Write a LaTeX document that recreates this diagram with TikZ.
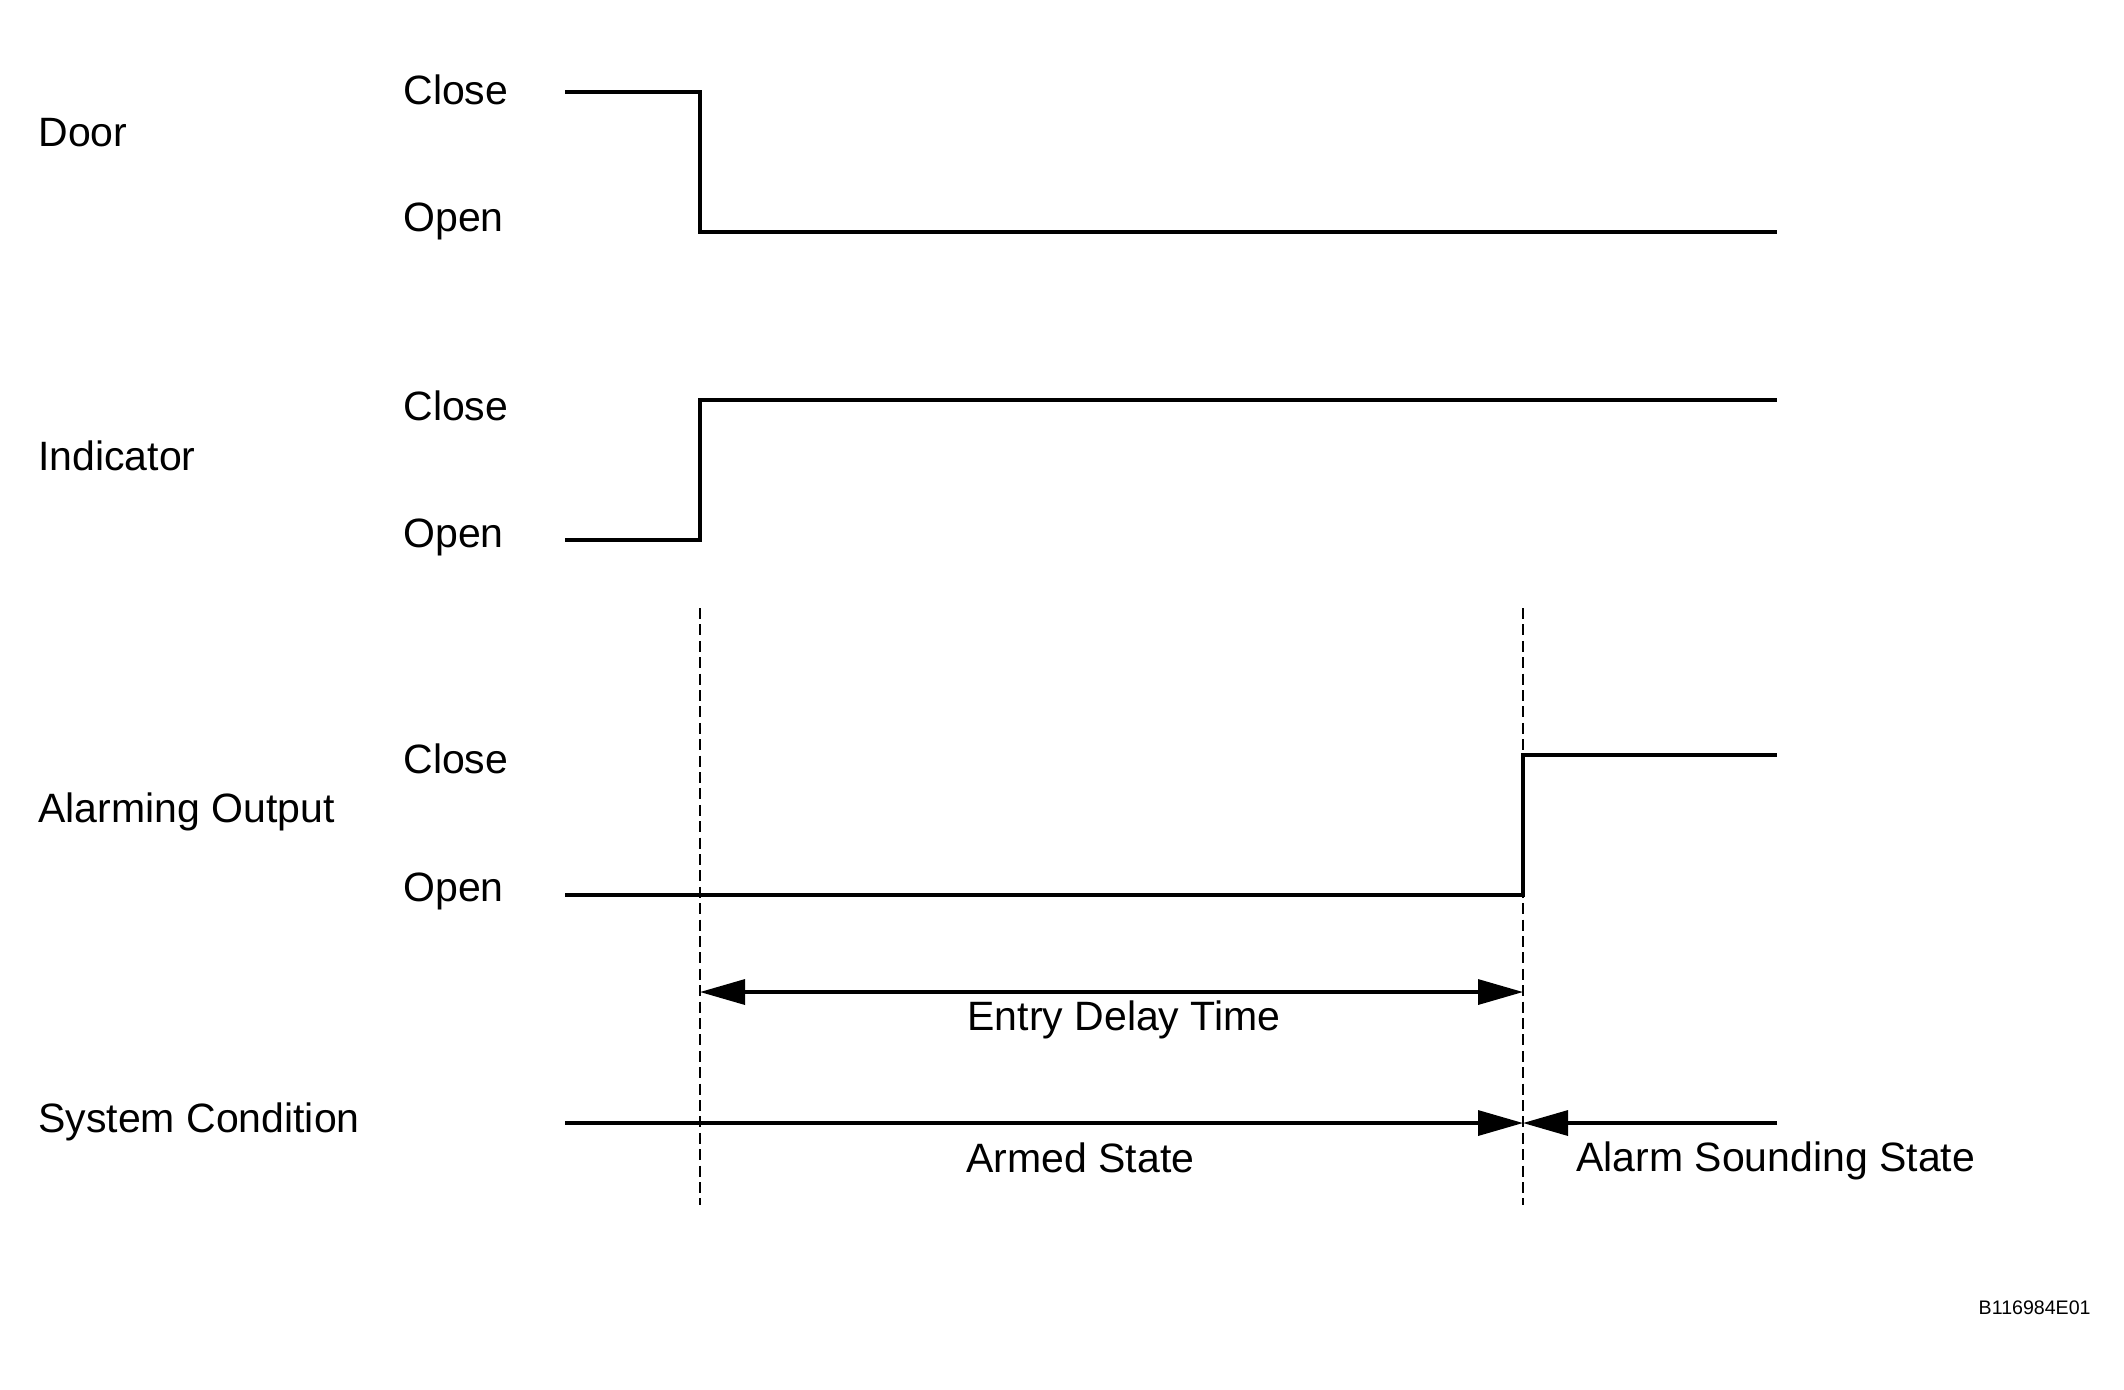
\documentclass[tikz,border=0pt]{standalone}
\usepackage{fontspec}
\setmainfont{Liberation Sans}
\usetikzlibrary{arrows.meta,positioning}

\begin{document}
\begin{tikzpicture}[x=0.5pt, y=-0.5pt]
        \tikzset{
            txt/.style = {anchor=base west, inner sep=0pt, font=\fontsize{20.5}{24}\selectfont},
            wave/.style = {line width=1.8pt, line join=miter},
            guide/.style = {line width=0.85pt, dash pattern=on 5.5pt off 2.7pt},
            arrow/.style = {line width=1.7pt, -{Triangle[length=22.5pt, width=12.5pt]}},
            dimline/.style = {line width=1.7pt, {Triangle[length=22.5pt, width=12.5pt]}-{Triangle[length=22.5pt, width=12.5pt]}}
        }
        \useasboundingbox (0,0) rectangle (2124,1389);

        % signal names
        \node (door) [txt] at (38,146) {Door};
        \node (indicator) [txt] at (38,470) {Indicator};
        \node (alarmOut) [txt] at (38,822) {Alarming Output};
        \node (sysCond) [txt] at (38,1132) {System Condition};

        % levels
        \node (doorClose) [txt] at (403,104) {Close};
        \node (doorOpen) [txt] at (403,231) {Open};
        \node (indClose) [txt] at (403,420) {Close};
        \node (indOpen) [txt] at (403,547) {Open};
        \node (alarmClose) [txt] at (403,773) {Close};
        \node (alarmOpen) [txt] at (403,901) {Open};

        % time marks
        \coordinate (tOpen) at (700,608);
        \coordinate (tOpenEnd) at (700,1205);
        \coordinate (tAlarm) at (1523,608);
        \coordinate (tAlarmEnd) at (1523,1205);
        \draw [guide] (tOpen) -- (tOpenEnd);
        \draw [guide] (tAlarm) -- (tAlarmEnd);

        % waveforms
        \coordinate (doorA) at (565,92);
        \coordinate (doorB) at (1777,232);
        \draw [wave] (doorA) -| (tOpen |- doorB) -- (doorB);
        \coordinate (indA) at (565,540);
        \coordinate (indB) at (1777,400);
        \draw [wave] (indA) -| (tOpen |- indB) -- (indB);
        \coordinate (alarmA) at (565,895);
        \coordinate (alarmB) at (1777,755);
        \draw [wave] (alarmA) -| (tAlarm |- alarmB) -- (alarmB);

        % entry delay
        \coordinate (delayA) at (700,992);
        \coordinate (delayB) at (1523,992);
        \draw [dimline] (delayA) -- (delayB);
        \node (delayLabel) [txt, anchor=base] at (1124,1030) {Entry Delay Time};

        % system condition
        \coordinate (sysA) at (565,1123);
        \coordinate (sysMid) at (1523,1123);
        \coordinate (sysB) at (1777,1123);
        \draw [arrow] (sysA) -- (sysMid);
        \draw [arrow] (sysB) -- (sysMid);
        \node (armed) [txt] at (966,1172) {Armed State};
        \node (sounding) [txt] at (1576,1171) {Alarm Sounding State};

        \node (code) [txt, anchor=base east, font=\fontsize{9.8}{12}\selectfont] at (2091,1314) {B116984E01};
\end{tikzpicture}
\end{document}
